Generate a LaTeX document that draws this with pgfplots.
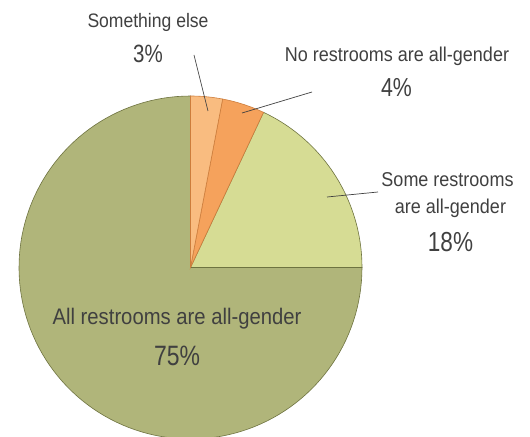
\documentclass[border=0pt]{standalone}
\usepackage{pgfplots}
\pgfplotsset{compat=1.18}
\usepackage{fontspec}
\setmainfont{Liberation Sans}
\newfontfamily\labfont[FakeStretch=0.9]{Liberation Sans}
\newfontfamily\pctfont[FakeStretch=0.82]{Liberation Sans}
\definecolor{cElse}{RGB}{249,188,128}
\definecolor{cNo}{RGB}{245,162,92}
\definecolor{cSome}{RGB}{214,220,148}
\definecolor{cAll}{RGB}{176,181,122}
\definecolor{eOr}{RGB}{205,125,60}
\definecolor{eOl}{RGB}{110,115,64}
\definecolor{txt}{RGB}{64,64,64}
% values (percent), clockwise from 12 o'clock
\def\vElse{3}\def\vNo{4}\def\vSome{18}\def\vAll{75}
\pgfmathsetmacro{\aA}{90}
\pgfmathsetmacro{\aB}{\aA-3.6*\vElse}
\pgfmathsetmacro{\aC}{\aB-3.6*\vNo}
\pgfmathsetmacro{\aD}{\aC-3.6*\vSome}
\pgfmathsetmacro{\aE}{\aD-3.6*\vAll}
\def\R{171.5}
\begin{document}
\begin{tikzpicture}
\begin{axis}[
  scale only axis, width=530bp, height=436bp,
  xmin=-190.5, xmax=339.5, ymin=-168.5, ymax=267.5,
  hide axis, clip=true,
]
\addplot[fill=cAll, draw=eOl, line width=0.6pt, data cs=polar, domain=\aE:\aD, samples=120] ({x},{\R}) -- (axis cs:0,0) -- cycle;
\addplot[fill=cSome, draw=eOl, line width=0.6pt, data cs=polar, domain=\aD:\aC, samples=40] ({x},{\R}) -- (axis cs:0,0) -- cycle;
\addplot[fill=cNo, draw=eOr, line width=0.6pt, data cs=polar, domain=\aC:\aB, samples=15] ({x},{\R}) -- (axis cs:0,0) -- cycle;
\addplot[fill=cElse, draw=eOr, line width=0.6pt, data cs=polar, domain=\aB:\aA, samples=15] ({x},{\R}) -- (axis cs:0,0) -- cycle;
% leader lines
\addplot[draw=txt, line width=0.7pt, no marks] coordinates {(3.5,212.5) (17.5,156.5)};
\addplot[draw=txt, line width=0.7pt, no marks] coordinates {(51.5,154.5) (121.5,175.5)};
\addplot[draw=txt, line width=0.7pt, no marks] coordinates {(136.5,70.5) (187.5,75.5)};
% labels
\node[anchor=base, text=txt, font=\labfont\fontsize{19.5bp}{22bp}\selectfont] at (axis cs:-42.5,239.5) {Something else};
\node[anchor=base, text=txt, font=\pctfont\fontsize{25bp}{28bp}\selectfont] at (axis cs:-42.5,204.5) {3\%};
\node[anchor=base, text=txt, font=\labfont\fontsize{20bp}{22bp}\selectfont] at (axis cs:206.5,205.5) {No restrooms are all-gender};
\node[anchor=base, text=txt, font=\pctfont\fontsize{26bp}{28bp}\selectfont] at (axis cs:206,171) {4\%};
\node[anchor=base, text=txt, font=\labfont\fontsize{20bp}{22bp}\selectfont] at (axis cs:257,81) {Some restrooms};
\node[anchor=base, text=txt, font=\labfont\fontsize{20bp}{22bp}\selectfont] at (axis cs:260,54.5) {are all-gender};
\node[anchor=base, text=txt, font=\pctfont\fontsize{27.5bp}{30bp}\selectfont] at (axis cs:260,16) {18\%};
\node[anchor=base, text=txt, font=\labfont\fontsize{22.5bp}{25bp}\selectfont] at (axis cs:-13.5,-56.5) {All restrooms are all-gender};
\node[anchor=base, text=txt, font=\pctfont\fontsize{28bp}{30bp}\selectfont] at (axis cs:-13.5,-97.5) {75\%};
\end{axis}
\pgfresetboundingbox
\path[use as bounding box] (current axis.south west) rectangle (current axis.north east);
\end{tikzpicture}
\end{document}
